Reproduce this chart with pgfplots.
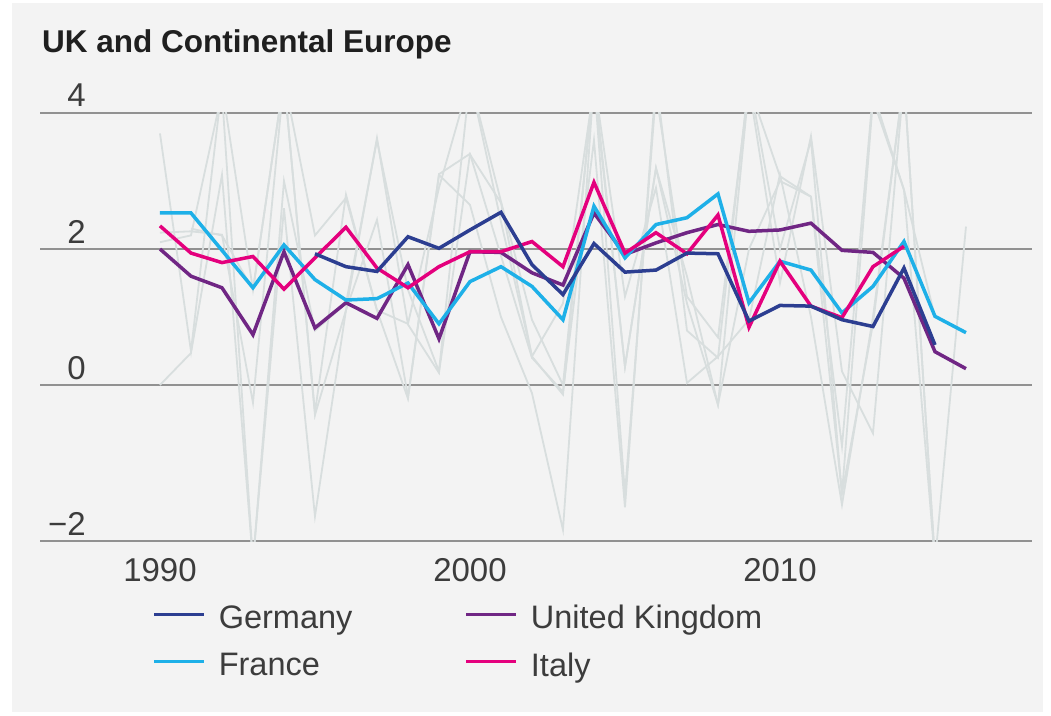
\documentclass[border=0pt]{standalone}
\usepackage{fontspec}
\setmainfont{Liberation Sans}
\usepackage{pgfplots}
\pgfplotsset{compat=1.18}
\definecolor{bgpanel}{RGB}{243,243,243}
\definecolor{gridc}{RGB}{145,145,145}
\definecolor{ghost}{RGB}{216,222,222}
\definecolor{deu}{RGB}{44,62,145}
\definecolor{fra}{RGB}{30,176,232}
\definecolor{gbr}{RGB}{112,38,132}
\definecolor{ita}{RGB}{228,0,125}
\definecolor{txt}{RGB}{60,60,60}
\begin{document}
\begin{tikzpicture}[x=1pt,y=1pt]
\path[use as bounding box, fill=white] (0,0) rectangle (1051,715);
\fill[bgpanel] (12,3) rectangle (1043,712);
\node[anchor=base west, inner sep=0pt, font=\fontsize{31.5}{36}\selectfont\bfseries, text=black!88] at (42,662) {UK and Continental Europe};
\begin{axis}[
  at={(40pt,174pt)}, anchor=south west,
  scale only axis, width=992pt, height=428pt,
  xmin=1986.13, xmax=2018.13, ymin=-2.294, ymax=4,
  axis line style={draw=none}, tick style={draw=none},
  ymajorgrids, grid style={gridc, line width=1.6pt},
  ytick={-2.294,0,2,4}, yticklabels={−2,0,2,4},
  xtick={1990,2000,2010}, xticklabels={1990,2000,2010},
  yticklabel style={anchor=base east, inner sep=0pt, xshift=46pt, yshift=6pt, font=\fontsize{33}{38}\selectfont, text=txt},
  xticklabel style={anchor=north, inner sep=0pt, yshift=-17pt, font=\fontsize{33}{38}\selectfont, text=txt},
  legend columns=2,
  legend image code/.code={\draw[#1, line width=3.5pt] (0pt,0.33em) -- (50pt,0.33em);},
  legend style={at={(0.113,-0.150)}, anchor=north west, draw=none, fill=none, inner sep=0pt,
    font=\fontsize{32.5}{38}\selectfont, text=txt,
    column sep=13pt, row sep=22pt, /tikz/column 2/.style={column sep=112pt},
    nodes={inner sep=0pt}},
  legend cell align=left,
]
% grey background series (other countries)
\addplot[ghost, line width=1.8pt, forget plot] coordinates {(1990,3.70)(1991,0.50)(1992,4.40)(1993,1.40)(1994,4.50)(1995,-0.44)(1996,1.10)(1997,3.63)(1998,0.89)(1999,0.18)(2000,3.39)(2001,2.68)(2002,0.42)(2003,-0.14)(2004,4.50)(2005,0.27)(2006,3.19)(2007,1.20)(2008,-0.29)(2009,4.40)(2010,3.07)(2011,2.77)(2012,-0.90)(2013,4.30)(2014,2.87)(2015,-2.60)(2016,2.33)};
\addplot[ghost, line width=1.8pt, forget plot] coordinates {(1990,0.00)(1991,0.47)(1992,3.09)(1993,-2.60)(1994,2.60)(1995,-1.93)(1996,1.10)(1997,2.43)(1998,-0.17)(1999,3.09)(2000,2.65)(2001,1.00)(2002,-0.12)(2003,-2.13)(2004,4.50)(2005,1.30)(2006,2.90)(2007,0.03)(2008,0.42)(2009,0.96)(2010,3.10)(2011,1.00)(2012,-1.76)(2013,1.00)(2014,4.50)(2015,-2.60)};
\addplot[ghost, line width=1.8pt, forget plot] coordinates {(1990,2.24)(1991,2.26)(1992,2.21)(1993,-0.26)(1994,4.50)(1995,2.20)(1996,2.75)(1997,1.10)(1998,0.90)(1999,2.90)(2000,4.50)(2001,2.70)(2002,0.96)(2003,0.00)(2004,4.50)(2005,-1.60)(2006,4.30)(2007,1.30)(2008,0.70)(2009,4.40)(2010,1.50)(2011,3.66)(2012,0.20)(2013,-0.71)(2014,4.50)(2015,-2.60)};
\addplot[ghost, line width=1.8pt, forget plot] coordinates {(1990,2.10)(1991,2.20)(1992,4.30)(1993,-2.60)(1994,3.00)(1995,0.80)(1996,1.20)(1997,3.60)(1998,1.40)(1999,0.20)(2000,4.50)(2001,2.40)(2002,0.42)(2003,1.20)(2004,4.40)(2005,0.27)(2006,3.19)(2007,1.60)(2008,-0.29)(2009,2.00)(2010,3.00)(2011,2.77)(2012,-1.60)(2013,4.20)(2014,2.87)(2015,1.00)};
\addplot[ghost, line width=1.8pt, forget plot] coordinates {(1991,2.30)(1992,2.20)(1993,1.40)(1994,4.50)(1995,-0.40)(1996,2.80)(1997,1.10)(1998,-0.20)(1999,3.10)(2000,3.40)(2001,1.90)(2002,0.40)(2003,-0.10)(2004,3.60)(2005,-1.80)(2006,4.50)(2007,0.80)(2008,0.40)(2009,4.50)(2010,2.00)(2011,3.60)(2012,-1.60)(2013,0.90)(2014,4.50)};
% United Kingdom
\addplot[gbr, line width=3.5pt, forget plot] coordinates {(1990,2.00)(1991,1.60)(1992,1.43)(1993,0.74)(1994,1.96)(1995,0.84)(1996,1.21)(1997,0.98)(1998,1.77)(1999,0.68)(2000,1.96)(2001,1.95)(2002,1.65)(2003,1.47)(2004,2.53)(2005,1.92)(2006,2.09)(2007,2.24)(2008,2.36)(2009,2.26)(2010,2.28)(2011,2.38)(2012,1.98)(2013,1.95)(2014,1.57)(2015,0.49)(2016,0.24)};
% France
\addplot[fra, line width=3.5pt, forget plot] coordinates {(1990,2.53)(1991,2.53)(1992,1.98)(1993,1.43)(1994,2.06)(1995,1.55)(1996,1.25)(1997,1.27)(1998,1.50)(1999,0.90)(2000,1.52)(2001,1.74)(2002,1.45)(2003,0.96)(2004,2.63)(2005,1.87)(2006,2.36)(2007,2.46)(2008,2.81)(2009,1.21)(2010,1.82)(2011,1.69)(2012,1.06)(2013,1.45)(2014,2.11)(2015,1.01)(2016,0.77)};
% Italy
\addplot[ita, line width=3.5pt, forget plot] coordinates {(1990,2.34)(1991,1.94)(1992,1.80)(1993,1.89)(1994,1.41)(1995,1.87)(1996,2.32)(1997,1.72)(1998,1.43)(1999,1.74)(2000,1.96)(2001,1.96)(2002,2.11)(2003,1.74)(2004,2.98)(2005,1.94)(2006,2.24)(2007,1.93)(2008,2.50)(2009,0.85)(2010,1.82)(2011,1.16)(2012,0.99)(2013,1.74)(2014,2.04)};
% Germany
\addplot[deu, line width=3.5pt, forget plot] coordinates {(1995,1.93)(1996,1.74)(1997,1.67)(1998,2.18)(1999,2.01)(2000,2.28)(2001,2.54)(2002,1.77)(2003,1.33)(2004,2.08)(2005,1.66)(2006,1.69)(2007,1.94)(2008,1.93)(2009,0.94)(2010,1.17)(2011,1.16)(2012,0.96)(2013,0.86)(2014,1.72)(2015,0.59)};
\addlegendimage{deu}\addlegendentry{Germany}
\addlegendimage{gbr}\addlegendentry{United Kingdom}
\addlegendimage{fra}\addlegendentry{France}
\addlegendimage{ita}\addlegendentry{Italy}
\end{axis}
\end{tikzpicture}
\end{document}
